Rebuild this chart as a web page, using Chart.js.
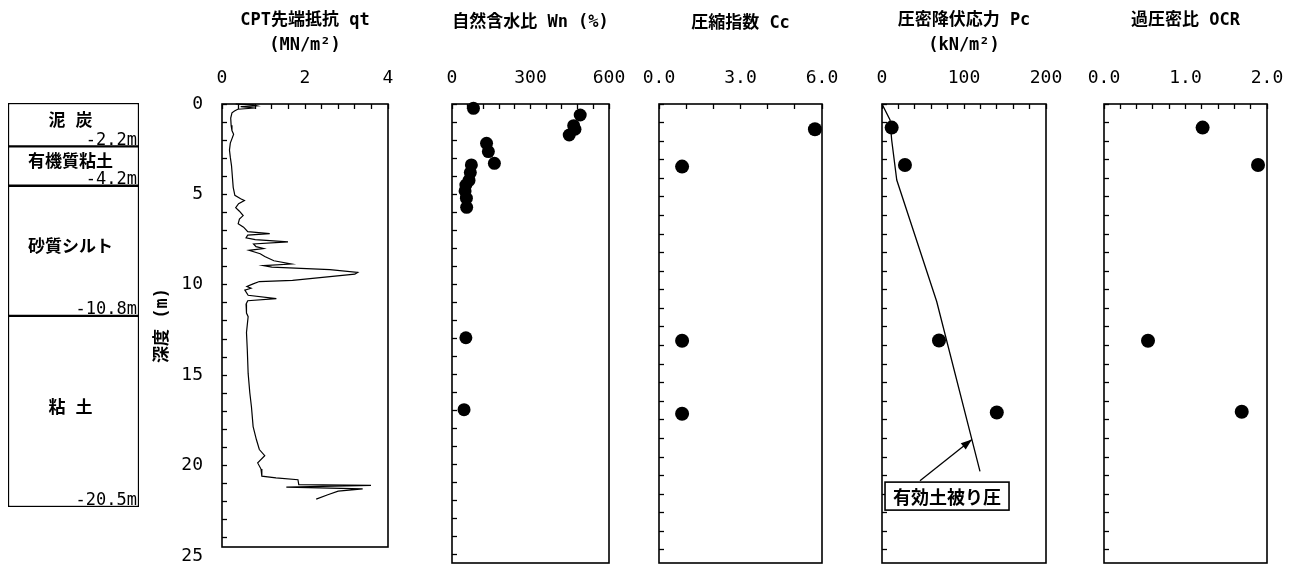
<!DOCTYPE html>
<html lang="ja">
<head>
<meta charset="utf-8">
<title>地盤調査結果</title>
<script src="https://cdn.jsdelivr.net/npm/chart.js@4.4.1/dist/chart.umd.min.js"></script>
<style>
  html, body { margin: 0; padding: 0; background: #fff; }
  #wrap { position: relative; width: 1294px; height: 564px; overflow: hidden; background: #fff; }
  #wrap canvas { position: absolute; left: 0; top: 0; }
</style>
</head>
<body>
<div id="wrap">
  <canvas id="strata" width="1294" height="564"></canvas>
  <canvas id="cpt" width="1294" height="564"></canvas>
  <canvas id="wn" width="1294" height="564"></canvas>
  <canvas id="cc" width="1294" height="564"></canvas>
  <canvas id="pc" width="1294" height="564"></canvas>
  <canvas id="ocr" width="1294" height="564"></canvas>
</div>
<script>
// ---------- soil layers ----------
const layerNames = ['泥 炭', '有機質粘土', '砂質シルト', '粘 土'];
const layerBottoms = [2.2, 4.2, 10.8, 20.5];

// ---------- CPT cone resistance qt (MN/m2) vs depth (m) ----------
const cptDepth = [0.00, 0.05, 0.10, 0.15, 0.22, 0.29, 0.39, 0.49, 0.78, 1.18,
  1.47, 1.67, 1.86, 2.16, 2.55, 2.94, 3.43, 4.02, 4.61, 5.05,
  5.24, 5.34, 5.51, 5.73, 5.93, 6.17, 6.37, 6.62, 6.81, 7.06,
  7.17, 7.25, 7.40, 7.50, 7.62, 7.74, 7.89, 7.99, 8.09, 8.28,
  8.43, 8.67, 8.85, 8.94, 9.02, 9.16, 9.31, 9.41, 9.75, 9.82,
  9.95, 10.09, 10.19, 10.29, 10.58, 10.76, 10.88, 11.07, 11.56, 11.76,
  12.64, 13.62, 14.90, 15.97, 16.76, 17.84, 18.57, 19.11, 19.45, 19.85,
  20.19, 20.58, 20.68, 20.78, 21.05, 21.09, 21.19, 21.29, 21.41, 21.61, 21.85];
const cptQt = [0.33, 0.75, 0.84, 0.45, 0.80, 0.38, 0.30, 0.24, 0.21, 0.22,
  0.24, 0.28, 0.25, 0.20, 0.18, 0.20, 0.23, 0.25, 0.27, 0.31,
  0.45, 0.54, 0.40, 0.33, 0.42, 0.51, 0.42, 0.39, 0.52, 0.62,
  1.15, 0.62, 0.58, 0.80, 1.59, 0.76, 0.82, 1.00, 0.65, 0.92,
  1.03, 1.25, 1.67, 1.00, 1.20, 2.60, 3.27, 3.20, 1.70, 0.90,
  0.75, 0.60, 0.70, 0.55, 0.63, 1.31, 0.62, 0.58, 0.59, 0.63,
  0.59, 0.61, 0.63, 0.67, 0.71, 0.75, 0.83, 0.90, 1.03, 0.86,
  0.94, 0.96, 1.30, 1.83, 1.85, 3.59, 1.55, 3.39, 2.80, 2.55, 2.27];

// ---------- laboratory results ----------
const wnDepth = [0.24, 0.61, 1.20, 1.40, 1.72, 2.18, 2.64, 3.29, 3.38, 3.80, 4.24, 4.49, 4.82, 5.22, 5.73, 12.96, 16.95];
const wnValue = [82, 490, 465, 470, 448, 132, 139, 162, 74, 70, 65, 53, 50, 55, 56, 53, 46];

const ccDepth = [1.36, 3.37, 12.74, 16.67];
const ccValue = [5.74, 0.85, 0.85, 0.85];

const pcDepth = [1.27, 3.28, 12.73, 16.60];
const pcValue = [11.8, 28, 69.5, 140];

const ocrDepth = [1.27, 3.28, 12.74, 16.56];
const ocrValue = [1.21, 1.89, 0.54, 1.69];

// effective overburden pressure (kN/m2)
const overburdenDepth = [0, 0.86, 1.94, 4.09, 10.63, 19.77];
const overburdenStress = [0, 9.8, 11.8, 18, 66.7, 119.5];

// ---------- labelled tick values ----------
const depthTickLabels = [0, 5, 10, 15, 20, 25];
const qtTickLabels = [0, 2, 4];
const wnTickLabels = [0, 300, 600];
const ccTickLabels = [0, 3, 6];
const pcTickLabels = [0, 100, 200];
const ocrTickLabels = [0, 1, 2];

// ---------- drawing ----------
const W = 1294, H = 564;
const PLOT_TOP = 104;
const MONO = "'DejaVu Sans Mono', 'Noto Sans CJK JP', monospace";
const CJK = "'Noto Sans CJK JP', sans-serif";
const INK = '#000';
const NONE = 'rgba(0,0,0,0)';

const toPoints = (xs, ys) => ys.map((d, i) => ({ x: xs[i], y: d }));
const near = (list, v) => list.some(t => Math.abs(t - v) < 1e-6);
// hide tick marks that fall outside the scale range
const tickInk = c => (c.tick && c.scale && (c.tick.value > c.scale.max + 1e-9 || c.tick.value < c.scale.min - 1e-9)) ? NONE : INK;

// Outline around each plot area
const framePlugin = {
  id: 'frame',
  beforeDatasetsDraw(chart, args, opts) {
    const { ctx, chartArea: a } = chart;
    ctx.save();
    ctx.strokeStyle = INK;
    ctx.lineWidth = opts.width || 1.6;
    ctx.strokeRect(a.left, a.top, a.right - a.left, a.bottom - a.top);
    ctx.restore();
  }
};

function makePanel(p) {
  return new Chart(document.getElementById(p.id), {
    type: 'scatter',
    data: { datasets: p.datasets },
    options: {
      responsive: false,
      animation: false,
      events: [],
      layout: { autoPadding: false, padding: { left: p.left - p.yWidth, right: W - p.right, top: 0, bottom: H - p.bottom } },
      plugins: { legend: { display: false }, tooltip: { enabled: false }, frame: { width: 1.6 } },
      scales: {
        x: {
          type: 'linear', position: 'top', min: 0, max: p.xMax,
          afterFit: s => { s.height = PLOT_TOP; s.paddingLeft = 0; s.paddingRight = 0; },
          border: { display: false },
          grid: { drawOnChartArea: false, drawTicks: true, tickLength: -5, tickColor: INK, tickWidth: 1.3 },
          ticks: {
            stepSize: p.xStep, autoSkip: false, maxRotation: 0, padding: 20, color: INK,
            font: { family: MONO, size: 18 },
            callback: v => near(p.xLabels, v) ? v.toFixed(p.decimals) : ''
          },
          title: {
            display: true, text: p.title, color: INK,
            font: { family: MONO, size: 17, weight: 'bold', lineHeight: '25px' },
            padding: { top: p.titlePad, bottom: 0 }
          }
        },
        y: {
          type: 'linear', position: 'left', reverse: true, min: 0, max: p.depthMax,
          afterFit: s => { s.width = p.yWidth; s.paddingTop = 0; s.paddingBottom = 0; },
          afterBuildTicks: s => { s.ticks = Array.from({ length: 26 }, (_, i) => ({ value: i })); },
          border: { display: false },
          grid: { drawOnChartArea: false, drawTicks: true, tickLength: -5, tickColor: tickInk, tickWidth: 1.3 },
          ticks: {
            autoSkip: false, padding: 24, color: INK,
            font: { family: MONO, size: 18 },
            callback: v => (p.depthLabels && near(depthTickLabels, v)) ? String(v) : ''
          },
          title: {
            display: !!p.depthLabels, text: '深度 (m)', color: INK,
            font: { family: MONO, size: 17, weight: 'bold' },
            padding: { top: 12, bottom: 0 }
          }
        }
      }
    },
    plugins: [framePlugin].concat(p.extraPlugins || [])
  });
}

const dots = (xs, ys, r) => ({
  data: toPoints(xs, ys), showLine: false, clip: false,
  pointRadius: r, pointBackgroundColor: INK, pointBorderWidth: 0, pointBorderColor: INK
});
const line = (xs, ys, w) => ({
  data: toPoints(xs, ys), showLine: true, clip: false, fill: false, tension: 0,
  borderColor: INK, borderWidth: w, pointRadius: 0
});

// Arrow + boxed caption pointing at the overburden line
const overburdenNote = { text: '有効土被り圧', tipDepth: 18.06, tail: { x: 46.3, y: 20.27 }, box: { x: 79.3, y: 21.1 } };
function stressAt(depth) {
  for (let i = 1; i < overburdenDepth.length; i++) {
    if (depth <= overburdenDepth[i] || i === overburdenDepth.length - 1) {
      const d0 = overburdenDepth[i - 1], d1 = overburdenDepth[i];
      const s0 = overburdenStress[i - 1], s1 = overburdenStress[i];
      return s0 + (s1 - s0) * (depth - d0) / (d1 - d0);
    }
  }
  return 0;
}
const notePlugin = {
  id: 'overburdenNote',
  afterDatasetsDraw(chart) {
    const { ctx, scales: { x, y } } = chart;
    const tipX = x.getPixelForValue(stressAt(overburdenNote.tipDepth));
    const tipY = y.getPixelForValue(overburdenNote.tipDepth);
    const tailX = x.getPixelForValue(overburdenNote.tail.x);
    const tailY = y.getPixelForValue(overburdenNote.tail.y);
    ctx.save();
    ctx.strokeStyle = INK; ctx.fillStyle = INK; ctx.lineWidth = 1.3;
    ctx.beginPath(); ctx.moveTo(tailX, tailY); ctx.lineTo(tipX, tipY); ctx.stroke();
    const a = Math.atan2(tipY - tailY, tipX - tailX), len = 11, half = 4;
    ctx.beginPath();
    ctx.moveTo(tipX, tipY);
    ctx.lineTo(tipX - len * Math.cos(a) + half * Math.sin(a), tipY - len * Math.sin(a) - half * Math.cos(a));
    ctx.lineTo(tipX - len * Math.cos(a) - half * Math.sin(a), tipY - len * Math.sin(a) + half * Math.cos(a));
    ctx.closePath(); ctx.fill();
    ctx.font = `bold 18px ${CJK}`;
    const tw = ctx.measureText(overburdenNote.text).width;
    const bx = x.getPixelForValue(overburdenNote.box.x), by = y.getPixelForValue(overburdenNote.box.y);
    const bw = tw + 16, bh = 28;
    ctx.fillStyle = '#fff';
    ctx.fillRect(bx - bw / 2, by - bh / 2, bw, bh);
    ctx.lineWidth = 1.6;
    ctx.strokeRect(bx - bw / 2, by - bh / 2, bw, bh);
    ctx.fillStyle = INK; ctx.textAlign = 'center'; ctx.textBaseline = 'middle';
    ctx.fillText(overburdenNote.text, bx, by + 1);
    ctx.restore();
  }
};

// ---------- boring log column ----------
const strataLabelPlugin = {
  id: 'strataLabels',
  afterDatasetsDraw(chart) {
    const ctx = chart.ctx;
    chart.data.datasets.forEach((ds, i) => {
      const el = chart.getDatasetMeta(i).data[0];
      const top = Math.min(el.y, el.base), bottom = Math.max(el.y, el.base);
      ctx.save();
      ctx.fillStyle = INK;
      ctx.textBaseline = 'middle';
      ctx.textAlign = 'center';
      ctx.font = `bold 17px ${MONO}`;
      ctx.fillText(ds.label, el.x - 3, (top + bottom) / 2 - 3);
      ctx.textAlign = 'right';
      ctx.font = `17px ${MONO}`;
      ctx.fillText('-' + ds.data[0][1].toFixed(1) + 'm', el.x + el.width / 2 - 2, bottom - 6);
      ctx.restore();
    });
  }
};

new Chart(document.getElementById('strata'), {
  type: 'bar',
  data: {
    labels: ['柱状図'],
    datasets: layerNames.map((name, i) => ({
      label: name,
      data: [[i === 0 ? 0 : layerBottoms[i - 1], layerBottoms[i]]],
      backgroundColor: '#fff', borderColor: INK, borderWidth: 1.5, borderSkipped: false,
      barPercentage: 1, categoryPercentage: 1, grouped: false
    }))
  },
  options: {
    responsive: false, animation: false, events: [],
    layout: { autoPadding: false, padding: { left: 8, right: W - 139, top: 103, bottom: H - 507 } },
    plugins: { legend: { display: false }, tooltip: { enabled: false } },
    scales: {
      x: { display: false },
      y: { display: false, reverse: true, min: 0, max: layerBottoms[layerBottoms.length - 1] }
    }
  },
  plugins: [strataLabelPlugin]
});

// ---------- profile panels ----------
makePanel({
  id: 'cpt', left: 222, right: 388, bottom: 547, depthMax: 24.5, yWidth: 82, depthLabels: true,
  xMax: 4, xStep: 0.4, xLabels: qtTickLabels, decimals: 0,
  title: ['CPT先端抵抗 qt', '(MN/m²)'], titlePad: 8,
  datasets: [line(cptQt, cptDepth, 1.2)]
});
makePanel({
  id: 'wn', left: 452, right: 609, bottom: 563, depthMax: 25.45, yWidth: 10,
  xMax: 600, xStep: 60, xLabels: wnTickLabels, decimals: 0,
  title: '自然含水比 Wn (%)', titlePad: 10,
  datasets: [dots(wnValue, wnDepth, 6.5)]
});
makePanel({
  id: 'cc', left: 659, right: 822, bottom: 563, depthMax: 24.7, yWidth: 10,
  xMax: 6, xStep: 1, xLabels: ccTickLabels, decimals: 1,
  title: '圧縮指数 Cc', titlePad: 11,
  datasets: [dots(ccValue, ccDepth, 7)]
});
makePanel({
  id: 'pc', left: 882, right: 1046, bottom: 563, depthMax: 24.7, yWidth: 10,
  xMax: 200, xStep: 20, xLabels: pcTickLabels, decimals: 0,
  title: ['圧密降伏応力 Pc', '(kN/m²)'], titlePad: 8,
  datasets: [line(overburdenStress, overburdenDepth, 1.3), dots(pcValue, pcDepth, 7)],
  extraPlugins: [notePlugin]
});
makePanel({
  id: 'ocr', left: 1104, right: 1267, bottom: 563, depthMax: 24.7, yWidth: 10,
  xMax: 2, xStep: 0.2, xLabels: ocrTickLabels, decimals: 1,
  title: '過圧密比 OCR', titlePad: 8,
  datasets: [dots(ocrValue, ocrDepth, 7)]
});
</script>
</body>
</html>
